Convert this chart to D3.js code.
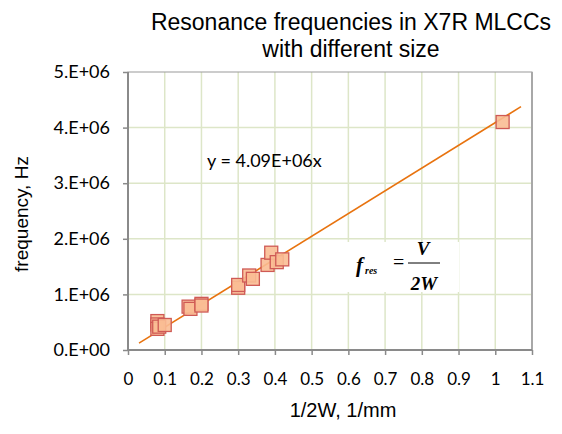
<!DOCTYPE html>
<html>
<head>
<meta charset="utf-8">
<script src="https://cdn.jsdelivr.net/npm/d3@7"></script>
<style>
body{margin:0;background:#fff}
</style>
</head>
<body>
<div id="chart"></div>
<script>
var width = 562
var height = 434
// measured points (1/2W in 1/mm, frequency in Hz)
var xVals = [0.08, 0.08, 0.08, 0.085, 0.1, 0.165, 0.17, 0.2, 0.2, 0.3, 0.3, 0.33, 0.34, 0.38, 0.39, 0.405, 0.42, 1.02]
var yVals = [0.52e6, 0.46e6, 0.38e6, 0.42e6, 0.45e6, 0.78e6, 0.74e6, 0.83e6, 0.80e6, 1.12e6, 1.17e6, 1.34e6, 1.28e6, 1.53e6, 1.75e6, 1.58e6, 1.63e6, 4.1e6]
var slope = 4.09e6
var trendRange = [0.03, 1.07]
var xTicks = [0, 0.1, 0.2, 0.3, 0.4, 0.5, 0.6, 0.7, 0.8, 0.9, 1, 1.1]
var yTicks = [0, 1e6, 2e6, 3e6, 4e6, 5e6]
var yTickLabels = ["0.E+00", "1.E+06", "2.E+06", "3.E+06", "4.E+06", "5.E+06"]

var m = {left: 128, right: 30, top: 72, bottom: 84}
var x = d3.scaleLinear().domain([0, 1.1]).range([m.left, width - m.right])
var y = d3.scaleLinear().domain([0, 5e6]).range([height - m.bottom, m.top])

var svg = d3.select("#chart").append("svg")
  .attr("width", width)
  .attr("height", height)

// gridlines
svg.selectAll("line.gx")
  .data(xTicks.slice(1, -1)).enter()
  .append("line")
    .attr("x1", x).attr("x2", x)
    .attr("y1", y(0)).attr("y2", y(5e6))
    .attr("stroke", "#dde6c8").attr("stroke-width", 1.5)
svg.selectAll("line.gy")
  .data(yTicks.slice(1, -1)).enter()
  .append("line")
    .attr("y1", y).attr("y2", y)
    .attr("x1", x(0)).attr("x2", x(1.1))
    .attr("stroke", "#dde6c8").attr("stroke-width", 1.5)

// frame
svg.append("rect")
  .attr("x", x(0)).attr("y", y(5e6))
  .attr("width", x(1.1) - x(0)).attr("height", y(0) - y(5e6))
  .attr("fill", "none").attr("stroke", "#9a9a9a").attr("stroke-width", 1)
svg.append("line")
  .attr("x1", x(1.1)).attr("x2", x(1.1)).attr("y1", y(5e6)).attr("y2", y(0))
  .attr("stroke", "#a8a8a8").attr("stroke-width", 2)

// axes
var xAxis = svg.append("g")
  .attr("transform", "translate(0," + y(0) + ")")
  .call(d3.axisBottom(x).tickValues(xTicks).tickSize(5).tickPadding(18).tickFormat(d3.format("")))
var yAxis = svg.append("g")
  .attr("transform", "translate(" + x(0) + ",0)")
  .call(d3.axisLeft(y).tickValues(yTicks).tickSize(5).tickPadding(13).tickFormat(function(d, i){return yTickLabels[i]}))
svg.selectAll(".domain").attr("stroke", "#8a8a8a").attr("stroke-width", 2)
svg.selectAll(".tick line").attr("stroke", "#8a8a8a").attr("stroke-width", 1.5)
svg.selectAll(".tick text")
  .attr("font-family", "Lato, 'Open Sans', sans-serif")
  .attr("font-size", 17)
  .attr("fill", "#000")
yAxis.selectAll(".tick text").attr("font-size", 18)
yAxis.select(".domain").attr("d", "M0," + y(5e6) + "V" + y(0))
xAxis.select(".domain").attr("d", "M" + x(0) + ",0H" + x(1.1))

// trendline
svg.append("path")
  .attr("d", d3.line()(trendRange.map(function(v){return [x(v), y(slope * v)]})))
  .attr("stroke", "#e8730f").attr("stroke-width", 1.6).attr("fill", "none")

// markers
var pts = xVals.map(function(v, i){return {x: v, y: yVals[i]}})
svg.selectAll("rect.pt")
  .data(pts).enter()
  .append("rect")
    .attr("x", function(d){return x(d.x) - 6.5})
    .attr("y", function(d){return y(d.y) - 6.5})
    .attr("width", 13).attr("height", 13)
    .attr("fill", "#f9bd93")
    .attr("fill-opacity", 0.9)
    .attr("stroke", "#cf5a55").attr("stroke-width", 1.3)

// titles
svg.append("text")
  .attr("x", 351).attr("y", 30)
  .attr("text-anchor", "middle")
  .attr("font-family", "'Liberation Sans', Arial, sans-serif")
  .attr("font-size", 23)
  .text("Resonance frequencies in X7R MLCCs")
svg.append("text")
  .attr("x", 351).attr("y", 57)
  .attr("text-anchor", "middle")
  .attr("font-family", "'Liberation Sans', Arial, sans-serif")
  .attr("font-size", 23)
  .text("with different size")
svg.append("text")
  .attr("transform", "translate(28,214) rotate(-90)")
  .attr("text-anchor", "middle")
  .attr("font-family", "'Liberation Sans', Arial, sans-serif")
  .attr("font-size", 19)
  .text("frequency, Hz")
svg.append("text")
  .attr("x", 343).attr("y", 417)
  .attr("text-anchor", "middle")
  .attr("font-family", "'Liberation Sans', Arial, sans-serif")
  .attr("font-size", 20)
  .text("1/2W, 1/mm")

// equation label
svg.append("text")
  .attr("x", 207).attr("y", 167)
  .attr("font-family", "Lato, 'Open Sans', sans-serif")
  .attr("font-size", 18)
  .text("y = 4.09E+06x")

// formula box
var fx = 345, fy = 242
svg.append("rect")
  .attr("x", fx).attr("y", fy).attr("width", 114).attr("height", 50)
  .attr("fill", "#fff")
var fg = svg.append("g")
  .attr("font-family", "'Liberation Serif', 'Times New Roman', serif")
  .attr("font-weight", "bold")
  .attr("font-style", "italic")
fg.append("text").attr("x", fx + 11).attr("y", fy + 30).attr("font-size", 21).text("f")
fg.append("text").attr("x", fx + 20).attr("y", fy + 32).attr("font-size", 10).text("res")
fg.append("text").attr("x", fx + 48).attr("y", fy + 27).attr("font-size", 20).attr("font-style", "normal").attr("font-weight", "normal").text("=")
fg.append("text").attr("x", fx + 78).attr("y", fy + 13).attr("text-anchor", "middle").attr("font-size", 19).text("V")
fg.append("line")
  .attr("x1", fx + 63).attr("x2", fx + 95).attr("y1", fy + 21).attr("y2", fy + 21)
  .attr("stroke", "#000").attr("stroke-width", 1)
fg.append("text").attr("x", fx + 79).attr("y", fy + 48).attr("text-anchor", "middle").attr("font-size", 19).text("2W")
</script>
</body>
</html>
